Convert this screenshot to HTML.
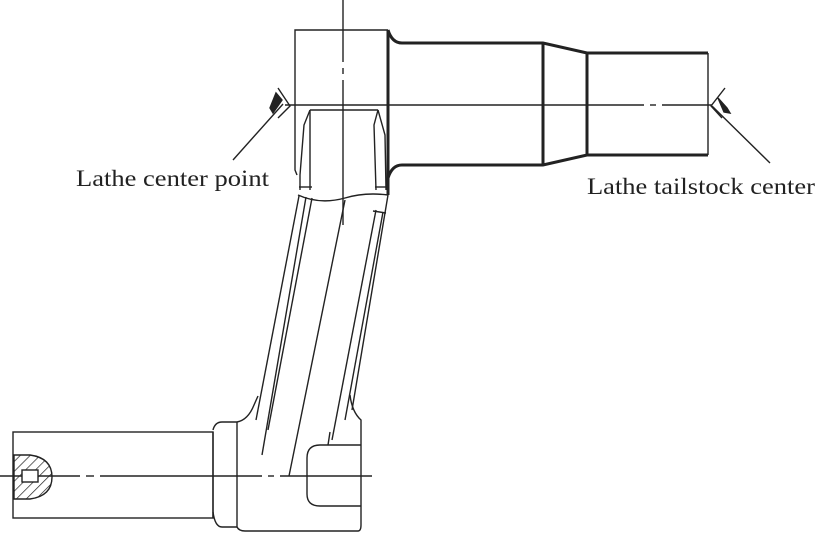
<!DOCTYPE html>
<html><head><meta charset="utf-8"><style>
html,body{margin:0;padding:0;background:#fff;width:829px;height:535px;overflow:hidden}
svg{display:block}
text{font-family:"Liberation Serif",serif;font-size:23px;fill:#222}
</style></head><body>
<svg width="829" height="535" viewBox="0 0 829 535" xmlns="http://www.w3.org/2000/svg">
<defs>
<pattern id="h" width="7" height="7" patternUnits="userSpaceOnUse" patternTransform="rotate(45)">
<line x1="0" y1="0" x2="0" y2="7" stroke="#222" stroke-width="1.4"/>
</pattern>
</defs>
<g fill="none" stroke="#222" stroke-width="1.4">
<line x1="343" y1="0" x2="343" y2="62"/><line x1="343" y1="68" x2="343" y2="74"/><line x1="343" y1="80" x2="343" y2="225"/>
<line x1="285" y1="105" x2="644" y2="105"/><line x1="650" y1="105" x2="656" y2="105"/><line x1="662" y1="105" x2="712" y2="105"/>
<line x1="0" y1="476" x2="80" y2="476"/><line x1="86" y1="476" x2="94" y2="476"/><line x1="100" y1="476" x2="262" y2="476"/><line x1="268" y1="476" x2="274" y2="476"/><line x1="280" y1="476" x2="372" y2="476"/>
<polyline points="297,175 295,170 295,30 388,30"/>
<g stroke-width="3">
<line x1="388" y1="30" x2="388" y2="195"/>
<path d="M388,30 Q392,43 402,43 L543,43 L587,53 L708,53"/>
<path d="M388,178 Q392,165 402,165 L543,165 L587,155 L708,155"/>
<line x1="543" y1="43" x2="543" y2="165"/>
<line x1="587" y1="53" x2="587" y2="155"/>
</g>
<line x1="708" y1="53" x2="708" y2="155"/>
<polyline points="278,88 290,106 278,118"/>
<line x1="233" y1="160" x2="283" y2="104"/>
<polygon points="276,93 282,100 273,113 270,108" fill="#222"/>
<polyline points="725,88 711,106 722,118"/>
<line x1="770" y1="163" x2="712" y2="106"/>
<polygon points="718,98 727,108 730,113 724,112" fill="#222"/>
<polyline points="310,110 378,110"/>
<path d="M310,110 L304,125 L300,175 L300,190"/>
<path d="M310,110 L310,190"/>
<path d="M378,110 L385,135 L386,190"/>
<path d="M378,110 L374,125 L376,190"/>
<path d="M298,195 Q320,205 345,198 Q365,192 388,195"/>
<line x1="299" y1="187" x2="312" y2="187"/><line x1="375" y1="187" x2="388" y2="187"/>
<line x1="299" y1="196" x2="256" y2="420"/>
<line x1="306" y1="197" x2="262" y2="455"/>
<line x1="312" y1="198" x2="268" y2="430"/>
<line x1="383" y1="212" x2="345" y2="420"/>
<line x1="376" y1="210" x2="332" y2="440"/>
<line x1="388" y1="195" x2="352" y2="410"/>
<line x1="373" y1="211" x2="386" y2="213"/>
<line x1="345" y1="200" x2="289" y2="476"/>
<rect x="13" y="432" width="200" height="86"/>
<path d="M213,430 Q215,422 222,422 L237,422 Q248,420 254,405 L258,396"/>
<path d="M213,512 Q215,527 222,527 L237,527"/>
<line x1="213" y1="432" x2="213" y2="518"/>
<line x1="237" y1="422" x2="237" y2="527"/>
<path d="M237,527 Q239,531 245,531 L358,531 Q361,531 361,525 L361,420 Q352,412 350,395"/>
<path d="M361,445 L320,445 Q307,445 307,458 L307,494 Q307,506 320,506 L361,506"/>
<line x1="328" y1="445" x2="330" y2="432"/>
<path d="M14,455 L30,455 Q52,458 52,477 Q52,496 30,499 L14,499 Z" fill="url(#h)"/>
<rect x="22" y="470" width="16" height="12" fill="#fff"/>
</g>
<text x="76" y="186" textLength="193" lengthAdjust="spacingAndGlyphs">Lathe center point</text>
<text x="587" y="194" textLength="228" lengthAdjust="spacingAndGlyphs">Lathe tailstock center</text>
</svg>
</body></html>
